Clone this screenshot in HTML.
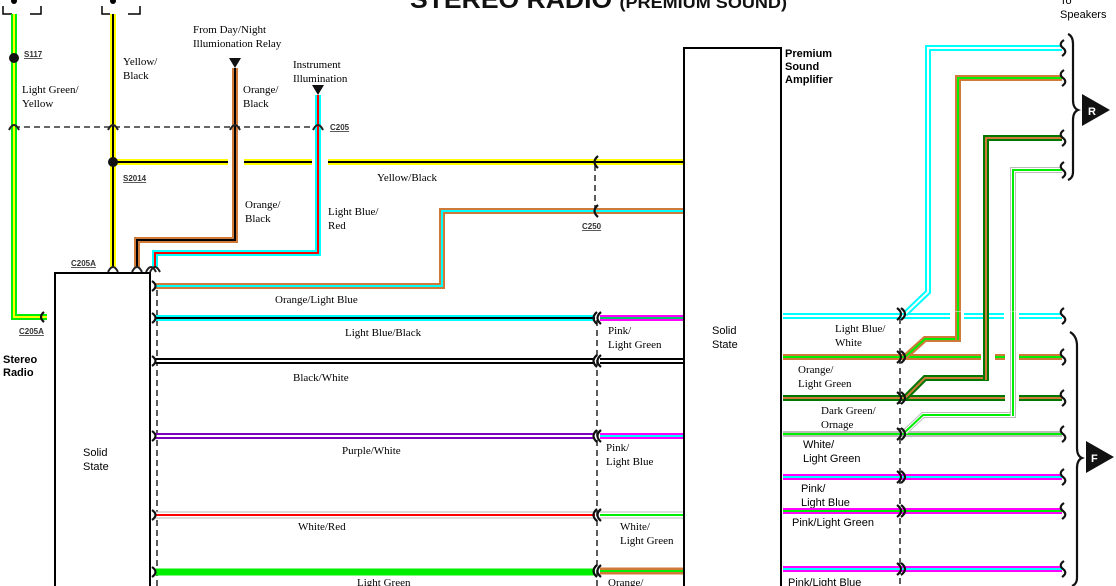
<!DOCTYPE html>
<html><head><meta charset="utf-8"><style>
html,body{margin:0;padding:0;background:#fff;}
svg{display:block;}
.s{font-family:"Liberation Serif",serif;font-size:11px;fill:#000;}
.b{font-family:"Liberation Sans",sans-serif;font-size:11px;font-weight:bold;fill:#000;}
.n{font-family:"Liberation Sans",sans-serif;font-size:11px;fill:#000;}
.u{font-family:"Liberation Sans",sans-serif;font-size:8px;font-weight:bold;fill:#333;text-decoration:underline;}
.d{stroke:#333;stroke-width:1.6;stroke-dasharray:6 4;fill:none;}
</style></head><body>
<svg width="1116" height="586" viewBox="0 0 1116 586" xmlns="http://www.w3.org/2000/svg" fill="none">
<text x="410" y="8" textLength="377" lengthAdjust="spacingAndGlyphs" style="font-family:'Liberation Sans',sans-serif;font-weight:bold;font-size:25px;fill:#111">STEREO RADIO <tspan style="font-size:17px">(PREMIUM SOUND)</tspan></text>

<!-- fuse brackets -->
<path d="M3,6 V14 H12 M30,14 H41 V6" stroke="#000" stroke-width="1.5"/>
<path d="M102,6 V14 H110 M128,14 H140 V6" stroke="#000" stroke-width="1.5"/>
<circle cx="14" cy="1" r="3" fill="#000"/><circle cx="113" cy="1" r="3" fill="#000"/>

<!-- dashed C205 line -->
<line x1="14" y1="127" x2="318" y2="127" class="d"/>

<!-- Light green/yellow -->
<polyline points="14,14 14,317 47,317" stroke="#00ee00" stroke-width="6"/>
<polyline points="14,14 14,317 47,317" stroke="#ffff00" stroke-width="2"/>
<circle cx="14" cy="58" r="5" fill="#111"/>
<text x="24" y="57" class="u">S117</text>
<text x="22" y="93" class="s">Light Green/</text><text x="22" y="107" class="s">Yellow</text>

<!-- Yellow/black vertical -->
<polyline points="113,14 113,268" stroke="#ffff00" stroke-width="6"/>
<polyline points="113,14 113,268" stroke="#000" stroke-width="2"/>
<text x="123" y="65" class="s">Yellow/</text><text x="123" y="79" class="s">Black</text>
<g>
<line x1="113" y1="162" x2="228" y2="162" stroke="#ffff00" stroke-width="6"/>
<line x1="244" y1="162" x2="312" y2="162" stroke="#ffff00" stroke-width="6"/>
<line x1="328" y1="162" x2="683" y2="162" stroke="#ffff00" stroke-width="6"/>
<line x1="113" y1="162" x2="228" y2="162" stroke="#000" stroke-width="2"/>
<line x1="244" y1="162" x2="312" y2="162" stroke="#000" stroke-width="2"/>
<line x1="328" y1="162" x2="683" y2="162" stroke="#000" stroke-width="2"/>
</g>
<circle cx="113" cy="162" r="5" fill="#111"/>
<text x="123" y="181" class="u">S2014</text>
<text x="377" y="181" class="s">Yellow/Black</text>

<!-- Orange/black -->
<polygon points="229,58 241,58 235,68" fill="#111"/>
<polyline points="235,68 235,240 137,240 137,268" stroke="#d07a3a" stroke-width="6"/>
<polyline points="235,68 235,240 137,240 137,268" stroke="#000" stroke-width="2"/>
<text x="193" y="33" class="s">From Day/Night</text><text x="193" y="47" class="s">Illumionation Relay</text>
<text x="243" y="93" class="s">Orange/</text><text x="243" y="107" class="s">Black</text>
<text x="245" y="208" class="s">Orange/</text><text x="245" y="222" class="s">Black</text>

<!-- Light blue/red -->
<polygon points="312,85 324,85 318,95" fill="#111"/>
<polyline points="318,95 318,253 155,253 155,268" stroke="#00ffff" stroke-width="6"/>
<polyline points="318,95 318,253 155,253 155,268" stroke="#ff0000" stroke-width="2"/>
<text x="293" y="68" class="s">Instrument</text><text x="293" y="82" class="s">Illumination</text>
<text x="328" y="215" class="s">Light Blue/</text><text x="328" y="229" class="s">Red</text>

<g stroke="#222" stroke-width="2">
<path d="M9,130 Q14,120 19,130"/><path d="M108,130 Q113,120 118,130"/>
<path d="M230,130 Q235,120 240,130"/><path d="M313,130 Q318,120 323,130"/>
<path d="M108,272 Q113,262 118,272"/><path d="M132,272 Q137,262 142,272"/>
<path d="M146,272 Q151,262 156,272"/><path d="M150,272 Q155,262 160,272"/>
</g>
<text x="330" y="130" class="u">C205</text>
<text x="71" y="266" class="u">C205A</text>
<text x="19" y="334" class="u">C205A</text>

<!-- Radio box -->
<polyline points="55,586 55,273 150,273 150,586" stroke="#000" stroke-width="2"/>
<text x="3" y="363" class="b">Stereo</text><text x="3" y="376" class="b">Radio</text>
<text x="83" y="456" class="n">Solid</text><text x="83" y="470" class="n">State</text>
<line x1="157" y1="290" x2="157" y2="586" class="d"/>

<polyline points="155,286 442,286 442,211 683,211" stroke="#d07a3a" stroke-width="6"/>
<polyline points="155,286 442,286 442,211 683,211" stroke="#00ffff" stroke-width="2"/>
<text x="275" y="303" class="s">Orange/Light Blue</text>
<line x1="595" y1="165" x2="595" y2="208" class="d"/>
<text x="582" y="229" class="u">C250</text>

<line x1="155" y1="318" x2="595" y2="318" stroke="#00ffff" stroke-width="6"/>
<line x1="155" y1="318" x2="595" y2="318" stroke="#000" stroke-width="2"/>
<text x="345" y="336" class="s">Light Blue/Black</text>
<line x1="155" y1="361" x2="595" y2="361" stroke="#000" stroke-width="6"/>
<line x1="155" y1="361" x2="595" y2="361" stroke="#fff" stroke-width="2"/>
<text x="293" y="381" class="s">Black/White</text>
<line x1="155" y1="436" x2="595" y2="436" stroke="#8000c0" stroke-width="6"/>
<line x1="155" y1="436" x2="595" y2="436" stroke="#fff" stroke-width="2"/>
<text x="342" y="454" class="s">Purple/White</text>
<line x1="155" y1="515" x2="595" y2="515" stroke="#bbb" stroke-width="7"/>
<line x1="155" y1="515" x2="595" y2="515" stroke="#fff" stroke-width="5"/>
<line x1="155" y1="515" x2="595" y2="515" stroke="#ff0000" stroke-width="2"/>
<text x="298" y="530" class="s">White/Red</text>
<line x1="155" y1="572" x2="595" y2="572" stroke="#00ee00" stroke-width="7"/>
<text x="357" y="586" class="s">Light Green</text>

<line x1="597" y1="320" x2="597" y2="586" class="d"/>
<line x1="600" y1="318" x2="683" y2="318" stroke="#ff00ff" stroke-width="6"/>
<line x1="600" y1="318" x2="683" y2="318" stroke="#00cc66" stroke-width="2"/>
<text x="608" y="334" class="s">Pink/</text><text x="608" y="348" class="s">Light Green</text>
<line x1="600" y1="361" x2="683" y2="361" stroke="#000" stroke-width="6"/>
<line x1="600" y1="361" x2="683" y2="361" stroke="#fff" stroke-width="2"/>
<line x1="600" y1="436" x2="683" y2="436" stroke="#ff00ff" stroke-width="6"/>
<line x1="600" y1="436" x2="683" y2="436" stroke="#00ffff" stroke-width="2"/>
<text x="606" y="451" class="s">Pink/</text><text x="606" y="465" class="s">Light Blue</text>
<line x1="600" y1="515" x2="683" y2="515" stroke="#bbb" stroke-width="7"/>
<line x1="600" y1="515" x2="683" y2="515" stroke="#fff" stroke-width="5"/>
<line x1="600" y1="515" x2="683" y2="515" stroke="#00ee00" stroke-width="2"/>
<text x="620" y="530" class="s">White/</text><text x="620" y="544" class="s">Light Green</text>
<line x1="600" y1="571" x2="683" y2="571" stroke="#d07a3a" stroke-width="7"/>
<line x1="600" y1="571" x2="683" y2="571" stroke="#00ee00" stroke-width="2"/>
<text x="608" y="586" class="s">Orange/</text>

<g stroke="#111" stroke-width="2.2">
<path d="M152,281 Q159,286 152,291"/><path d="M152,313 Q159,318 152,323"/>
<path d="M152,356 Q159,361 152,366"/><path d="M152,431 Q159,436 152,441"/>
<path d="M152,510 Q159,515 152,520"/><path d="M152,567 Q159,572 152,577"/>
<path d="M44,312 Q38,317 44,322"/>
<path d="M598,156 Q591,162 598,168"/><path d="M598,205 Q591,211 598,217"/>
<path d="M597,312 Q590,318 597,324"/><path d="M601,312 Q594,318 601,324"/>
<path d="M597,355 Q590,361 597,367"/><path d="M601,355 Q594,361 601,367"/>
<path d="M597,430 Q590,436 597,442"/><path d="M601,430 Q594,436 601,442"/>
<path d="M597,509 Q590,515 597,521"/><path d="M601,509 Q594,515 601,521"/>
<path d="M597,565 Q590,571 597,577"/><path d="M601,565 Q594,571 601,577"/>
</g>

<polyline points="684,586 684,48 781,48 781,586" stroke="#000" stroke-width="2"/>
<text x="785" y="57" class="b">Premium</text><text x="785" y="70" class="b">Sound</text><text x="785" y="83" class="b">Amplifier</text>
<text x="712" y="334" class="n">Solid</text><text x="712" y="348" class="n">State</text>

<line x1="900" y1="318" x2="900" y2="586" class="d"/>
<polyline points="783,316 1062,316" stroke="#00ffff" stroke-width="6"/>
<polyline points="783,316 1062,316" stroke="#fff" stroke-width="2"/>
<polyline points="905,314 928,292 928,48 1062,48" stroke="#00ffff" stroke-width="6"/>
<polyline points="905,314 928,292 928,48 1062,48" stroke="#fff" stroke-width="2"/>
<text x="835" y="332" class="s">Light Blue/</text><text x="835" y="346" class="s">White</text>
<polyline points="783,357 1062,357" stroke="#d07a3a" stroke-width="6"/>
<polyline points="783,357 1062,357" stroke="#00ee00" stroke-width="2"/>
<polyline points="905,357 925,339 958,339 958,78 1062,78" stroke="#d07a3a" stroke-width="6"/>
<polyline points="905,357 925,339 958,339 958,78 1062,78" stroke="#00ee00" stroke-width="2"/>
<text x="798" y="373" class="s">Orange/</text><text x="798" y="387" class="s">Light Green</text>
<polyline points="783,398 1062,398" stroke="#007700" stroke-width="6"/>
<polyline points="783,398 1062,398" stroke="#d07a3a" stroke-width="2"/>
<polyline points="905,398 925,378 986,378 986,138 1062,138" stroke="#007700" stroke-width="6"/>
<polyline points="905,398 925,378 986,378 986,138 1062,138" stroke="#d07a3a" stroke-width="2"/>
<text x="821" y="414" class="s">Dark Green/</text><text x="821" y="428" class="s">Ornage</text>
<polyline points="783,434 1062,434" stroke="#bbb" stroke-width="6"/>
<polyline points="783,434 1062,434" stroke="#00ee00" stroke-width="2"/>
<polyline points="905,432 923,415 1013,415 1013,170 1062,170" stroke="#bbb" stroke-width="6"/>
<polyline points="905,432 923,415 1013,415 1013,170 1062,170" stroke="#fff" stroke-width="4"/>
<polyline points="905,432 923,415 1013,415 1013,170 1062,170" stroke="#00ee00" stroke-width="2"/>
<g stroke="#fff" stroke-width="9">
<line x1="950" y1="316" x2="964" y2="316"/><line x1="1004" y1="316" x2="1019" y2="316"/>
<line x1="981" y1="357" x2="995" y2="357"/><line x1="1005" y1="357" x2="1019" y2="357"/>
<line x1="1005" y1="398" x2="1019" y2="398"/>
</g>
<line x1="958" y1="312" x2="958" y2="340" stroke="#d07a3a" stroke-width="6"/><line x1="958" y1="312" x2="958" y2="340" stroke="#00ee00" stroke-width="2"/>
<line x1="986" y1="312" x2="986" y2="380" stroke="#007700" stroke-width="6"/><line x1="986" y1="312" x2="986" y2="380" stroke="#d07a3a" stroke-width="2"/>
<line x1="1013" y1="312" x2="1013" y2="416" stroke="#bbb" stroke-width="6"/><line x1="1013" y1="312" x2="1013" y2="416" stroke="#fff" stroke-width="4"/><line x1="1013" y1="312" x2="1013" y2="416" stroke="#00ee00" stroke-width="2"/>
<text x="803" y="448" class="n">White/</text><text x="803" y="462" class="n">Light Green</text>
<line x1="783" y1="477" x2="1062" y2="477" stroke="#ff00ff" stroke-width="6"/>
<line x1="783" y1="477" x2="1062" y2="477" stroke="#00ffff" stroke-width="2"/>
<text x="801" y="492" class="n">Pink/</text><text x="801" y="506" class="n">Light Blue</text>
<line x1="783" y1="511" x2="1062" y2="511" stroke="#ff00ff" stroke-width="6"/>
<line x1="783" y1="511" x2="1062" y2="511" stroke="#00ee00" stroke-width="2"/>
<text x="792" y="526" class="n">Pink/Light Green</text>
<line x1="783" y1="569" x2="1062" y2="569" stroke="#ff00ff" stroke-width="6"/>
<line x1="783" y1="569" x2="1062" y2="569" stroke="#00ffff" stroke-width="2"/>
<text x="788" y="586" class="n">Pink/Light Blue</text>

<g stroke="#111" stroke-width="2.2">
<path d="M897,308 Q905,314 897,320"/><path d="M901,308 Q909,314 901,320"/>
<path d="M897,351 Q905,357 897,363"/><path d="M901,351 Q909,357 901,363"/>
<path d="M897,392 Q905,398 897,404"/><path d="M901,392 Q909,398 901,404"/>
<path d="M897,428 Q905,434 897,440"/><path d="M901,428 Q909,434 901,440"/>
<path d="M897,471 Q905,477 897,483"/><path d="M901,471 Q909,477 901,483"/>
<path d="M897,505 Q905,511 897,517"/><path d="M901,505 Q909,511 901,517"/>
<path d="M897,563 Q905,569 897,575"/><path d="M901,563 Q909,569 901,575"/>
<path d="M1064,40 Q1058,44 1063,48 Q1068,52 1062,56"/>
<path d="M1064,70 Q1058,74 1063,78 Q1068,82 1062,86"/>
<path d="M1064,130 Q1058,134 1063,138 Q1068,142 1062,146"/>
<path d="M1064,162 Q1058,166 1063,170 Q1068,174 1062,178"/>
<path d="M1064,308 Q1058,312 1063,316 Q1068,320 1062,324"/>
<path d="M1064,349 Q1058,353 1063,357 Q1068,361 1062,365"/>
<path d="M1064,390 Q1058,394 1063,398 Q1068,402 1062,406"/>
<path d="M1064,426 Q1058,430 1063,434 Q1068,438 1062,442"/>
<path d="M1064,469 Q1058,473 1063,477 Q1068,481 1062,485"/>
<path d="M1064,503 Q1058,507 1063,511 Q1068,515 1062,519"/>
<path d="M1064,561 Q1058,565 1063,569 Q1068,573 1062,577"/>
<path d="M1068,34 Q1073,36 1073,44 V100 Q1073,108 1078,110 Q1073,112 1073,120 V172 Q1073,178 1068,180"/>
<path d="M1070,332 Q1077,336 1077,346 V448 Q1077,456 1082,458 Q1077,460 1077,468 V578 Q1077,584 1072,586"/>
</g>
<polygon points="1082,94 1082,126 1110,110" fill="#111"/>
<text x="1088" y="115" style="font-family:'Liberation Sans',sans-serif;font-weight:bold;font-size:11px;fill:#fff">R</text>
<polygon points="1086,441 1086,473 1114,457" fill="#111"/>
<text x="1091" y="462" style="font-family:'Liberation Sans',sans-serif;font-weight:bold;font-size:11px;fill:#fff">F</text>
<text x="1060" y="4" class="n">To</text><text x="1060" y="18" class="n">Speakers</text>
</svg>
</body></html>
